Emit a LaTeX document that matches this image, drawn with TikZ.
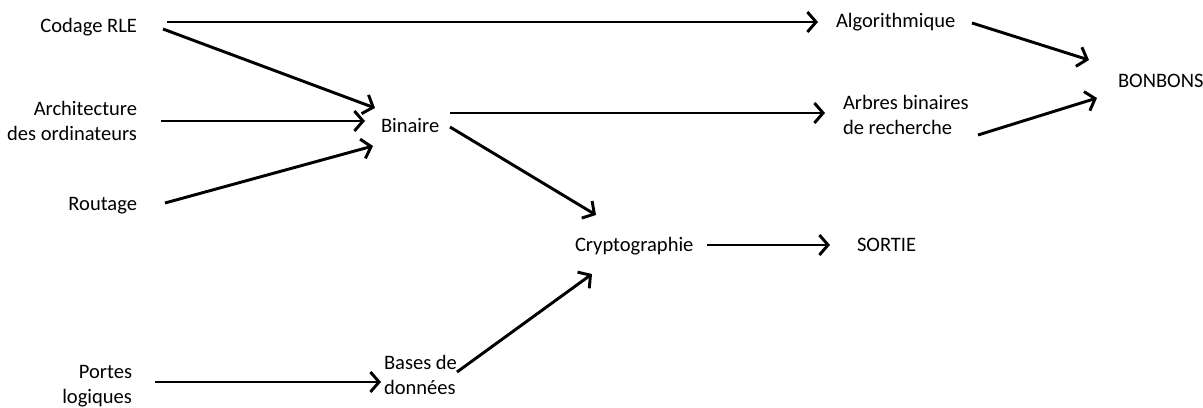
\documentclass[tikz,border=0pt]{standalone}
\usepackage{fontspec}
\setmainfont{Carlito}
\usetikzlibrary{arrows.meta}
\newcommand\rlines[2]{\vtop{\baselineskip=19.2pt\halign{\hfil##\cr#1\cr#2\cr}}}
\newcommand\llines[2]{\vtop{\baselineskip=19.2pt\halign{##\hfil\cr#1\cr#2\cr}}}
\tikzset{
  lbl/.style={inner sep=0pt, outer sep=0pt, font=\fontsize{15.4pt}{19.2pt}\selectfont},
  arr/.style={line width=2.2pt, -{Straight Barb[length=6.5pt,width=15pt,line width=2.2pt]}}
}
\begin{document}
\begin{tikzpicture}[x=0.75pt,y=-0.75pt]
\fill[white] (0,0) rectangle (1203,407);
\useasboundingbox (0,0) rectangle (1203,407);
% nodes
\node[lbl, anchor=base east] (codage) at (137,32) {Codage RLE};
\node[lbl, anchor=base east] (archi) at (137,115) {\rlines{Architecture}{des ordinateurs}};
\node[lbl, anchor=base east] (routage) at (137,210) {Routage};
\node[lbl, anchor=base east] (portes) at (132,378) {\rlines{Portes}{logiques}};
\node[lbl, anchor=base west] (binaire) at (381,132) {Binaire};
\node[lbl, anchor=base west] (bases) at (384,369) {\llines{Bases de}{données}};
\node[lbl, anchor=base west] (crypt) at (575,251) {Cryptographie};
\node[lbl, anchor=base west] (sortie) at (857,251) {SORTIE};
\node[lbl, anchor=base west] (algo) at (836,27) {Algorithmique};
\node[lbl, anchor=base west] (arbres) at (843,109) {\llines{Arbres binaires}{de recherche}};
\node[lbl, anchor=base west] (bonbons) at (1118,87) {BONBONS};
% connectors
\draw[arr] ([shift={(30,-10)}]codage.base east) -- ([shift={(-18,-5)}]algo.base west);
\draw[arr] ([shift={(26,-3)}]codage.base east) -- ([shift={(-6,-24)}]binaire.base west);
\draw[arr] ([shift={(24,6)}]archi.base east) -- ([shift={(-16,-11)}]binaire.base west);
\draw[arr] ([shift={(28,-7)}]routage.base east) -- ([shift={(-8,14)}]binaire.base west);
\draw[arr] ([shift={(69,-19)}]binaire.base west) -- ([shift={(-18,4)}]arbres.base west);
\draw[arr] ([shift={(69,-5)}]binaire.base west) -- ([shift={(21,-36)}]crypt.base west);
\draw[arr] ([shift={(23,4)}]portes.base east) -- ([shift={(-3,13)}]bases.base west);
\draw[arr] ([shift={(73,3)}]bases.base west) -- ([shift={(17,23)}]crypt.base west);
\draw[arr] ([shift={(132,-6)}]crypt.base west) -- ([shift={(-27,-6)}]sortie.base west);
\draw[arr] ([shift={(136,-4)}]algo.base west) -- ([shift={(-29,-27)}]bonbons.base west);
\draw[arr] ([shift={(135,26)}]arbres.base west) -- ([shift={(-21,11)}]bonbons.base west);
\end{tikzpicture}
\end{document}
